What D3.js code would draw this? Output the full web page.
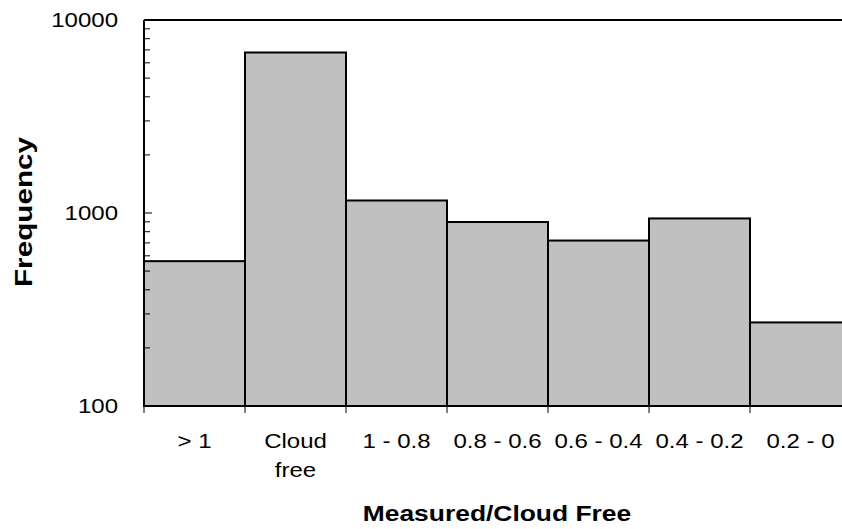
<!DOCTYPE html>
<html>
<head>
<meta charset="utf-8">
<script src="https://cdn.jsdelivr.net/npm/d3@7"></script>
<style>
body{margin:0;background:#fff;}
text{font-family:"Liberation Sans",Arial,sans-serif;fill:#000;}
</style>
</head>
<body>
<script>
var categories = ["> 1", "Cloud\nfree", "1 - 0.8", "0.8 - 0.6", "0.6 - 0.4", "0.4 - 0.2", "0.2 - 0"];
var frequencies = [563, 6785, 1161, 898, 720, 937, 271];
var yTicks = [100, 1000, 10000];

var W = 842, H = 529;
var pLeft = 144, pTop = 20, pBottom = 406, pRight = 851;
var stretch = 1.2; // text in the reference is drawn a bit wide

var svg = d3.select("body").append("svg").attr("width", W).attr("height", H);

var x = d3.scaleBand().domain(categories).range([pLeft, pRight]).paddingInner(0).paddingOuter(0);
var y = d3.scaleLog().domain([100, 10000]).range([pBottom, pTop]);

function widen(sel){
  sel.each(function(){
    var w = this.getComputedTextLength();
    d3.select(this).attr("textLength", w * stretch).attr("lengthAdjust", "spacingAndGlyphs");
  });
}

// bars
svg.selectAll("rect.bar")
  .data(frequencies)
  .enter().append("rect")
    .attr("class", "bar")
    .attr("x", function(d, i){ return x(categories[i]); })
    .attr("y", function(d){ return y(d); })
    .attr("width", x.bandwidth())
    .attr("height", function(d){ return pBottom - y(d); })
    .attr("fill", "#c0c0c0")
    .attr("stroke", "#000")
    .attr("stroke-width", 2);

// top frame line
svg.append("line")
  .attr("x1", pLeft).attr("x2", W)
  .attr("y1", pTop).attr("y2", pTop)
  .attr("stroke", "#000").attr("stroke-width", 2);

// y axis, ticks pointing inward
var minor = [];
[100, 1000].forEach(function(b){ for (var k = 2; k <= 9; k++) minor.push(b * k); });
svg.selectAll("line.minor")
  .data(minor)
  .enter().append("line")
    .attr("x1", pLeft).attr("x2", pLeft + 6)
    .attr("y1", function(d){ return y(d); }).attr("y2", function(d){ return y(d); })
    .attr("stroke", "#000").attr("stroke-width", 1);
svg.selectAll("line.major")
  .data(yTicks)
  .enter().append("line")
    .attr("x1", pLeft).attr("x2", pLeft + 8)
    .attr("y1", function(d){ return y(d); }).attr("y2", function(d){ return y(d); })
    .attr("stroke", "#000").attr("stroke-width", 1);
svg.append("line")
  .attr("x1", pLeft).attr("x2", pLeft)
  .attr("y1", pTop).attr("y2", pBottom)
  .attr("stroke", "#000").attr("stroke-width", 2);
svg.selectAll("text.ytick")
  .data(yTicks)
  .enter().append("text")
    .attr("x", 118)
    .attr("y", function(d){ return y(d); })
    .attr("dy", "0.35em")
    .attr("text-anchor", "end")
    .attr("font-size", 20)
    .text(function(d){ return d; })
    .call(widen);

// x axis
svg.append("line")
  .attr("x1", pLeft).attr("x2", W)
  .attr("y1", pBottom).attr("y2", pBottom)
  .attr("stroke", "#000").attr("stroke-width", 2);
var bounds = categories.map(function(c){ return x(c); });
svg.selectAll("line.xtick")
  .data(bounds)
  .enter().append("line")
    .attr("x1", function(d){ return d; }).attr("x2", function(d){ return d; })
    .attr("y1", pBottom).attr("y2", pBottom + 7)
    .attr("stroke", "#000").attr("stroke-width", 1);

var lines = [];
categories.forEach(function(c){
  c.split("\n").forEach(function(s, i){ lines.push({c: c, s: s, i: i}); });
});
svg.selectAll("text.xlab")
  .data(lines)
  .enter().append("text")
    .attr("class", "xlab")
    .attr("x", function(d){ return x(d.c) + x.bandwidth() / 2; })
    .attr("y", function(d){ return 448 + d.i * 29; })
    .attr("text-anchor", "middle")
    .attr("font-size", 20)
    .text(function(d){ return d.s; })
    .call(widen);

// titles
svg.append("text")
  .attr("x", 497).attr("y", 521)
  .attr("text-anchor", "middle")
  .attr("font-size", 22).attr("font-weight", "bold")
  .text("Measured/Cloud Free")
  .call(widen);
svg.append("text")
  .attr("transform", "translate(32,212) rotate(-90)")
  .attr("text-anchor", "middle")
  .attr("font-size", 24).attr("font-weight", "bold")
  .attr("textLength", 150).attr("lengthAdjust", "spacingAndGlyphs")
  .text("Frequency");
</script>
</body>
</html>
